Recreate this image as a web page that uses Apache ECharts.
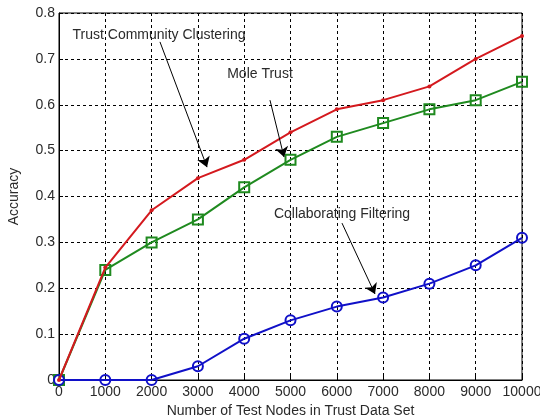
<!DOCTYPE html>
<html>
<head>
<meta charset="utf-8">
<script src="https://cdn.jsdelivr.net/npm/echarts@6/dist/echarts.min.js"></script>
<style>
  html, body { margin: 0; padding: 0; background: #fff; }
  #chart { width: 540px; height: 420px; }
</style>
</head>
<body>
<div id="chart"></div>
<script>
// Number of test nodes (x values)
const nodes = [0, 1000, 2000, 3000, 4000, 5000, 6000, 7000, 8000, 9000, 10000];
// Accuracy per method
const trustCommunity = [0, 0.245, 0.37, 0.44, 0.48, 0.54, 0.59, 0.61, 0.64, 0.70, 0.75];
const moleTrust = [0, 0.24, 0.30, 0.35, 0.42, 0.48, 0.53, 0.56, 0.59, 0.61, 0.65];
const collaborative = [0, 0, 0, 0.03, 0.09, 0.13, 0.16, 0.18, 0.21, 0.25, 0.31];
// Annotation text and arrow endpoints in data units
const notes = [
  { text: 'Trust Community Clustering', at: [2160, 0.752], from: [2181, 0.737], to: [3197, 0.464] },
  { text: 'Mole Trust', at: [4341, 0.667], from: [4557, 0.610], to: [4860, 0.486] },
  { text: 'Collaborating Filtering', at: [6112, 0.362], from: [6112, 0.342], to: [6825, 0.1875] }
];

const FONT = 'Liberation Sans, Arial, sans-serif';
const TXT = '#2a2a2a';
const pairs = ys => nodes.map((x, i) => [x, ys[i]]);

const chart = echarts.init(document.getElementById('chart'));
chart.setOption({
  animation: false,
  backgroundColor: '#fff',
  grid: { left: 59, top: 13, width: 463, height: 367, outerBoundsMode: 'none',
    show: true, borderColor: '#000', borderWidth: 1 },
  xAxis: {
    type: 'value', min: 0, max: 10000, interval: 1000,
    name: 'Number of Test Nodes in Trust Data Set', nameLocation: 'middle', nameGap: 24,
    nameTextStyle: { fontFamily: FONT, fontSize: 14, color: TXT },
    axisLine: { lineStyle: { color: '#000' } },
    axisTick: { inside: true, length: 4, lineStyle: { color: '#000' } },
    axisLabel: { fontFamily: FONT, fontSize: 14, color: TXT, margin: 5,
      formatter: v => String(v) },
    splitLine: { show: true, lineStyle: { color: '#000', type: [3, 3], width: 1 } }
  },
  yAxis: {
    type: 'value', min: 0, max: 0.8, interval: 0.1,
    name: 'Accuracy', nameLocation: 'middle', nameGap: 38,
    nameTextStyle: { fontFamily: FONT, fontSize: 14, color: TXT },
    axisLine: { lineStyle: { color: '#000' } },
    axisTick: { inside: true, length: 4, lineStyle: { color: '#000' } },
    axisLabel: { fontFamily: FONT, fontSize: 14, color: TXT, margin: 4,
      formatter: v => (v === 0 ? '0' : v.toFixed(1)) },
    splitLine: { show: true, lineStyle: { color: '#000', type: [3, 3], width: 1 } }
  },
  series: [
    {
      name: 'Trust Community Clustering', type: 'line', data: pairs(trustCommunity),
      symbol: 'circle', symbolSize: 4, color: '#d4191e',
      lineStyle: { width: 2, color: '#d4191e' }, itemStyle: { color: '#d4191e' },
      z: 3
    },
    {
      name: 'Mole Trust', type: 'line', data: pairs(moleTrust),
      symbol: 'rect', symbolSize: 10, color: '#1f8a1f',
      lineStyle: { width: 2, color: '#1f8a1f' },
      itemStyle: { color: 'rgba(0,0,0,0)', borderColor: '#1f8a1f', borderWidth: 2 },
      z: 2
    },
    {
      name: 'Collaborating Filtering', type: 'line', data: pairs(collaborative),
      symbol: 'circle', symbolSize: 10, color: '#1010c8',
      lineStyle: { width: 2, color: '#1010c8' },
      itemStyle: { color: 'rgba(0,0,0,0)', borderColor: '#1010c8', borderWidth: 2 },
      z: 2
    },
    {
      // annotation labels and arrows
      type: 'line', data: [], silent: true, z: 5,
      markPoint: {
        symbol: 'circle', symbolSize: 0, silent: true,
        label: { show: true, position: 'inside', fontFamily: FONT, fontSize: 14, color: TXT,
          formatter: p => p.name },
        data: notes.map(n => ({ name: n.text, coord: n.at, value: 0 }))
      },
      markLine: {
        silent: true, symbol: ['none', 'arrow'], symbolSize: 10,
        lineStyle: { color: '#000', width: 1, type: 'solid' },
        itemStyle: { color: '#000' },
        label: { show: false },
        data: notes.map(n => [{ coord: n.from }, { coord: n.to }])
      }
    }
  ]
});
</script>
</body>
</html>
